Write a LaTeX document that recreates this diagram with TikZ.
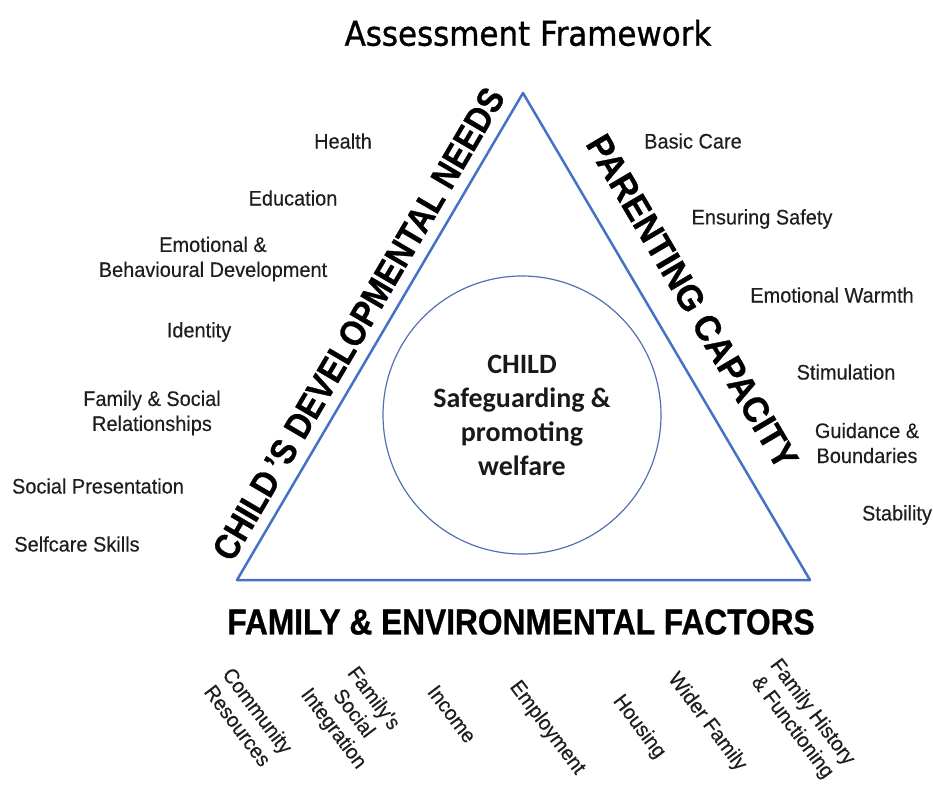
\documentclass[tikz,border=0pt]{standalone}
\usepackage{fontspec}
\setmainfont{Liberation Sans}
\newfontfamily\labelfont[FakeStretch=0.95, FakeBold=0.3]{Liberation Sans}
\newfontfamily\headfont[FakeStretch=0.88, FakeBold=0.8]{Liberation Sans}
\newfontfamily\headwidefont[FakeStretch=0.95, FakeBold=0.8]{Liberation Sans}
\newfontfamily\titlefont[FakeStretch=0.91, FakeBold=1]{DejaVu Sans}
\newfontfamily\childfont{Carlito}
\definecolor{triblue}{RGB}{68,114,196}
\definecolor{ringblue}{RGB}{82,112,178}
\definecolor{ink}{RGB}{30,30,30}

\begin{document}
\begin{tikzpicture}[x=1pt, y=-1pt,
    item/.style={font=\labelfont\fontsize{21}{25}\selectfont, text=ink, align=center, inner sep=0pt},
    tilted/.style={item, rotate=-53},
    heading/.style={font=\headfont\bfseries\fontsize{36}{40}\selectfont, inner sep=0pt},
    hub/.style={circle, draw=ringblue, line width=1.2pt, minimum size=278pt, inner sep=0pt,
        align=center, text=black!90, font=\childfont\bfseries\fontsize{28}{34}\selectfont}]
    \useasboundingbox (0,0) rectangle (933,785);

    % Title
    \node[font=\titlefont\fontsize{34}{40}\selectfont, inner sep=0pt] (title) at (528,33) {Assessment Framework};

    % Triangle
    \coordinate (top) at (523,93);
    \coordinate (bl) at (237,580);
    \coordinate (br) at (810,580);
    \draw[triblue, line width=2.5pt, line join=round] (top) -- (br) -- (bl) -- cycle;

    % Sides
    \path (bl) -- (top) node[heading, midway, sloped, above=12pt] (needs) {CHILD\,’S DEVELOPMENTAL NEEDS};
    \path (top) -- (br) node[heading, font=\headwidefont\bfseries\fontsize{36}{40}\selectfont,
        pos=0.47, sloped, above=27pt] (parenting) {PARENTING CAPACITY};
    \node[heading] (factors) at (521,622) {FAMILY \& ENVIRONMENTAL FACTORS};

    % Centre
    \node[hub] (child) at (522,415) {CHILD\\Safeguarding \&\\promoting\\welfare};

    % Child's developmental needs
    \foreach \nm/\x/\y/\txt in {health/343/141/Health, educ/293/198/Education,
        emo/213/259/{Emotional \&\\Behavioural Development}, ident/199/332/Identity,
        rel/152/413/{Family \& Social\\Relationships}, pres/98/486/Social Presentation,
        self/77/544/Selfcare Skills} {
        \node[item] (\nm) at (\x,\y) {\txt};
    }

    % Parenting capacity
    \foreach \nm/\x/\y/\txt in {care/693/141/Basic Care, safety/762/219/Ensuring Safety,
        warmth/832/295/Emotional Warmth, stim/846/372/Stimulation,
        guide/867/443/{Guidance \&\\Boundaries}, stab/897/515/Stability} {
        \node[item] (\nm) at (\x,\y) {\txt};
    }

    % Family & environmental factors
    \foreach \nm/\x/\y/\txt in {comm/248/718/{Community\\Resources},
        integ/353/714/{Family's\\Social\\Integration}, income/452/714/Income,
        employ/547/728/Employment, housing/639/727/Housing, wider/707/722/Wider Family,
        history/802/720/{Family History\\\& Functioning}} {
        \node[tilted] (\nm) at (\x,\y) {\txt};
    }
\end{tikzpicture}
\end{document}
